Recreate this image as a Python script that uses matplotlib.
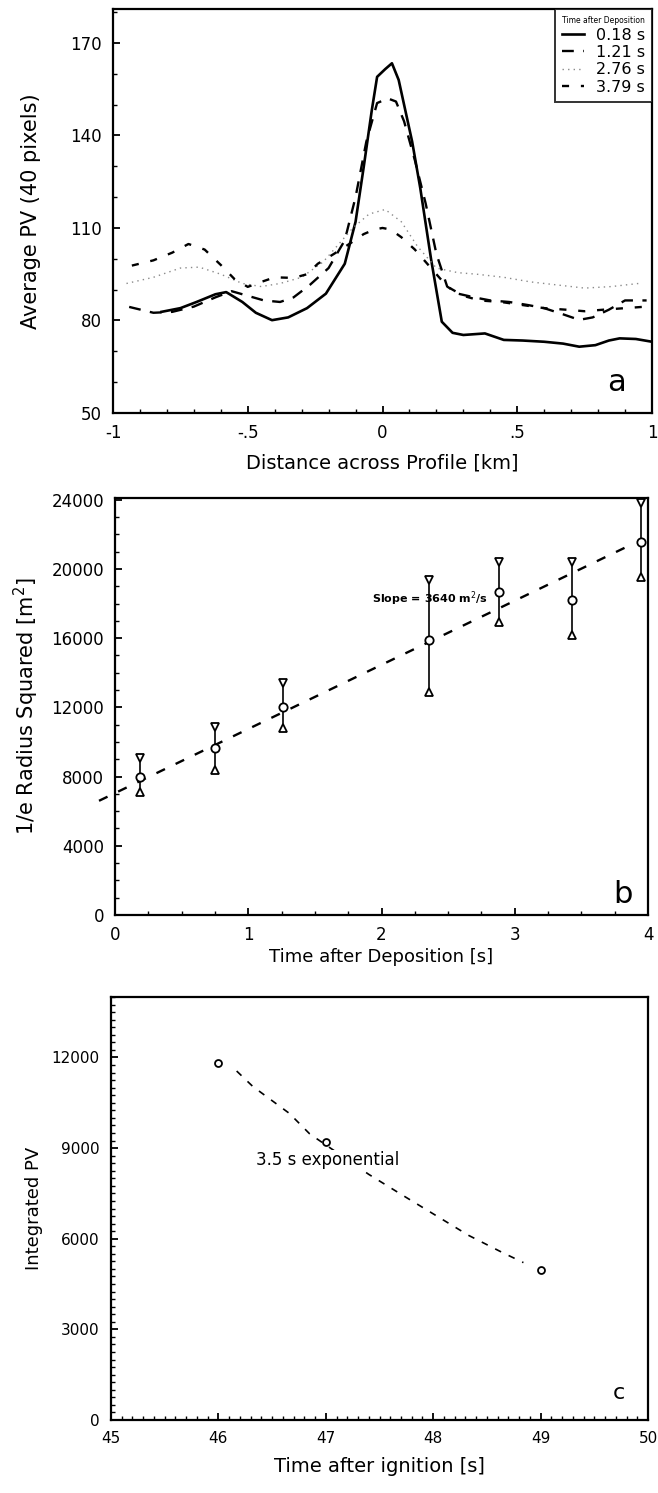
import matplotlib
matplotlib.use("Agg")
import matplotlib.pyplot as plt
from matplotlib.ticker import MultipleLocator

plt.rcParams['font.family'] = ['DejaVu Sans']

# ---------------- Panel a data ----------------
x_018 = [-0.82, -0.75, -0.69, -0.62, -0.58, -0.52, -0.47, -0.41, -0.35, -0.28, -0.21, -0.14,
         -0.10, -0.07, -0.04, -0.02, 0.01, 0.035, 0.06, 0.08, 0.11, 0.14, 0.18, 0.22, 0.26,
         0.30, 0.38, 0.45, 0.52, 0.60, 0.67, 0.73, 0.79, 0.84, 0.88, 0.94, 1.0]
y_018 = [82.8, 84, 86, 88.5, 89.2, 86, 82.5, 80.1, 81, 84, 88.7, 98.4,
         112, 129.6, 148, 159, 161.5, 163.4, 158, 150, 138, 123, 100, 79.6, 76,
         75.3, 75.8, 73.7, 73.5, 73.1, 72.5, 71.5, 72, 73.5, 74.2, 74, 73.1]

x_121 = [-0.94, -0.85, -0.78, -0.70, -0.62, -0.56, -0.50, -0.44, -0.38, -0.33, -0.27, -0.20,
         -0.14, -0.10, -0.06, -0.02, 0.02, 0.05, 0.08, 0.12, 0.16, 0.20, 0.24, 0.28, 0.34,
         0.40, 0.47, 0.54, 0.60, 0.67, 0.73, 0.78, 0.84, 0.90, 0.98]
y_121 = [84.4, 82.5, 82.8, 84.5, 87.5, 89.5, 88, 86.5, 86, 87.5, 91.5, 97,
         106, 120, 138, 150.5, 152, 151, 144.6, 132, 118, 101.6, 91, 88.7, 87.5,
         86.5, 86, 85, 84, 82, 80.2, 81, 83.5, 86.5, 86.5]

x_276 = [-0.95, -0.85, -0.75, -0.68, -0.60, -0.52, -0.45, -0.38, -0.30, -0.22, -0.16, -0.11,
         -0.05, 0.01, 0.07, 0.13, 0.20, 0.28, 0.35, 0.45, 0.55, 0.65, 0.75, 0.85, 0.95]
y_276 = [92, 94, 97, 97.3, 95, 92, 91, 92, 94, 99, 105, 110,
         114.5, 116, 112, 104, 97, 95.5, 95, 94, 92.5, 91.5, 90.5, 91, 92]

x_379 = [-0.93, -0.85, -0.78, -0.72, -0.66, -0.60, -0.55, -0.50, -0.45, -0.40, -0.33, -0.28,
         -0.24, -0.18, -0.12, -0.07, -0.03, 0.0, 0.03, 0.07, 0.12, 0.18, 0.24, 0.30, 0.36,
         0.44, 0.52, 0.60, 0.68, 0.75, 0.82, 0.90, 0.98]
y_379 = [97.8, 99.5, 102, 104.8, 103, 98, 93.5, 90.9, 92.5, 94, 93.8, 95,
         98.4, 101.6, 105, 108, 109.5, 110, 109.5, 107, 103, 97, 91, 88, 86.5,
         86, 85, 84, 83.5, 83, 83.5, 84, 84.5]

labels_a = ['0.18 s', '1.21 s', '2.76 s', '3.79 s']
xticks_a = [-1, -0.5, 0, 0.5, 1]
xticklabels_a = ['-1', '-.5', '0', '.5', '1']
yticks_a = [50, 80, 110, 140, 170]

# ---------------- Panel b data ----------------
t_b = [0.19, 0.75, 1.26, 2.36, 2.88, 3.43, 3.95]
r2_mid = [8000, 9630, 12040, 15900, 18690, 18210, 21580]
r2_hi = [9060, 10890, 13390, 19360, 20420, 20420, 23800]
r2_lo = [7130, 8380, 10790, 12910, 16960, 16190, 19560]
fit_x = [-0.12, 3.90]
fit_y = [6600, 21500]
yticks_b = [0, 4000, 8000, 12000, 16000, 20000, 24000]

# ---------------- Panel c data ----------------
t_c = [46.0, 47.0, 49.0]
pv_c = [11800, 9200, 4950]
exp_t = [46.17, 46.32, 46.66, 46.85, 47.40, 47.71, 48.02, 48.33, 48.64, 48.84]
exp_pv = [11550, 11040, 10150, 9470, 8130, 7450, 6780, 6110, 5550, 5210]
yticks_c = [0, 3000, 6000, 9000, 12000]
xticks_c = [45, 46, 47, 48, 49, 50]

W, H = 658, 1493
fig = plt.figure(figsize=(W / 100, H / 100), dpi=100)


def frac(l, r, t, b):
    return [l / W, 1 - b / H, (r - l) / W, (b - t) / H]


def style(ax):
    for s in ax.spines.values():
        s.set_linewidth(1.6)
    ax.tick_params(which='both', direction='in', top=False, right=False)
    ax.tick_params(which='major', length=5, width=1.3, labelsize=12, pad=8)
    ax.tick_params(which='minor', length=3, width=1.0)


# ---------- Panel a ----------
axa = fig.add_axes(frac(113, 652, 9, 413))
axa.plot(x_018, y_018, color='black', lw=1.9, ls='-', label=labels_a[0])
axa.plot(x_121, y_121, color='black', lw=1.7, ls=(0, (5, 4)), label=labels_a[1])
axa.plot(x_276, y_276, color='#8a8a8a', lw=1.0, ls=(0, (1, 3)), label=labels_a[2])
axa.plot(x_379, y_379, color='black', lw=1.7, ls=(0, (3, 5)), label=labels_a[3])
axa.set_xlim(-1, 1)
axa.set_ylim(50, 181)
axa.set_xticks(xticks_a)
axa.set_xticklabels(xticklabels_a)
axa.set_yticks(yticks_a)
axa.xaxis.set_minor_locator(MultipleLocator(0.1))
axa.yaxis.set_minor_locator(MultipleLocator(10))
style(axa)
axa.set_xlabel('Distance across Profile [km]', fontsize=14, labelpad=8)
axa.set_ylabel('Average PV (40 pixels)', fontsize=15)
axa.yaxis.set_label_coords(-0.134, 0.5)
leg = axa.legend(loc='upper right', title='Time after Deposition', fontsize=11.5,
                 title_fontsize=5.5, handlelength=1.4, handletextpad=0.7,
                 borderaxespad=0, fancybox=False, frameon=True, labelspacing=0.15,
                 borderpad=0.45)
leg.get_frame().set_edgecolor('black')
leg.get_frame().set_linewidth(1.4)
axa.text(0.87, 60, 'a', fontsize=22, ha='center', va='center')

# ---------- Panel b ----------
axb = fig.add_axes(frac(115, 648, 498, 915))
axb.plot(fit_x, fit_y, color='black', lw=1.7, ls=(0, (4, 5)), clip_on=False)
axb.vlines(t_b, r2_lo, r2_hi, color='black', lw=1.2)
axb.plot(t_b, r2_mid, ls='none', marker='o', ms=6, mfc='white', mec='black', mew=1.3)
axb.plot(t_b, r2_hi, ls='none', marker='v', ms=6, mfc='white', mec='black', mew=1.3)
axb.plot(t_b, r2_lo, ls='none', marker='^', ms=6, mfc='white', mec='black', mew=1.3)
axb.set_xlim(0, 4)
axb.set_ylim(0, 24100)
axb.set_yticks(yticks_b)
axb.set_xticks([0, 1, 2, 3, 4])
axb.xaxis.set_minor_locator(MultipleLocator(0.25))
axb.yaxis.set_minor_locator(MultipleLocator(1000))
style(axb)
axb.set_xlabel('Time after Deposition [s]', fontsize=13, labelpad=3)
axb.set_ylabel('1/e Radius Squared [m$^2$]', fontsize=15)
axb.yaxis.set_label_coords(-0.139, 0.5)
axb.text(2.80, 18300, 'Slope = 3640 m$^2$/s', fontsize=8, fontweight='bold',
         ha='right', va='center')
axb.text(3.81, 1200, 'b', fontsize=22, ha='center', va='center')

# ---------- Panel c ----------
axc = fig.add_axes(frac(111, 648, 997, 1420))
axc.plot(exp_t, exp_pv, color='black', lw=1.2, ls=(0, (4, 5)), zorder=1)
axc.plot(t_c, pv_c, ls='none', marker='o', ms=5, mfc='white', mec='black', mew=1.3,
         zorder=3)
axc.set_xlim(45, 50)
axc.set_ylim(0, 14000)
axc.set_yticks(yticks_c)
axc.set_xticks(xticks_c)
axc.xaxis.set_minor_locator(MultipleLocator(0.1))
axc.yaxis.set_minor_locator(MultipleLocator(250))
style(axc)
axc.tick_params(which='major', labelsize=11)
axc.set_xlabel('Time after ignition [s]', fontsize=14, labelpad=8)
axc.set_ylabel('Integrated PV', fontsize=13)
axc.yaxis.set_label_coords(-0.127, 0.5)
axc.text(46.35, 8600, '3.5 s exponential', fontsize=12, ha='left', va='center',
         zorder=2, bbox=dict(facecolor='white', edgecolor='none', pad=1))
axc.text(49.73, 900, 'c', fontsize=16, ha='center', va='center')

fig.savefig('out.png', dpi=100)
